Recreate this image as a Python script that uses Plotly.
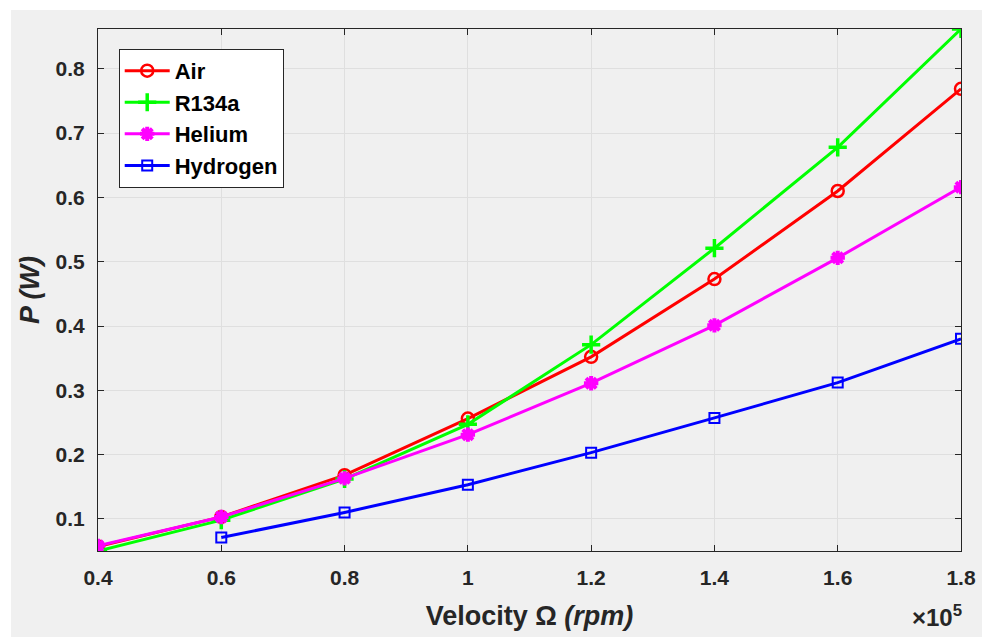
import plotly.graph_objects as go

velocity = [40000, 60000, 80000, 100000, 120000, 140000, 160000, 180000]
air = [0.057, 0.103, 0.168, 0.256, 0.352, 0.473, 0.610, 0.769]
r134a = [0.050, 0.098, 0.162, 0.247, 0.371, 0.521, 0.678, 0.862]
helium = [0.058, 0.103, 0.163, 0.231, 0.311, 0.401, 0.506, 0.616]
hydrogen_v = [60000, 80000, 100000, 120000, 140000, 160000, 180000]
hydrogen = [0.071, 0.110, 0.153, 0.203, 0.257, 0.312, 0.380]

x_ticks = [40000, 60000, 80000, 100000, 120000, 140000, 160000, 180000]
x_ticktext = ["0.4", "0.6", "0.8", "1", "1.2", "1.4", "1.6", "1.8"]
y_ticks = [0.1, 0.2, 0.3, 0.4, 0.5, 0.6, 0.7, 0.8]

FONT = "Liberation Sans, Arial, sans-serif"
AX = "#262626"

fig = go.Figure()
fig.add_trace(go.Scatter(x=velocity, y=air, name="<b>Air</b>", mode="lines+markers",
                         line=dict(color="#ff0000", width=3),
                         marker=dict(symbol="circle-open", size=12, color="#ff0000",
                                     line=dict(width=2.5, color="#ff0000"))))
fig.add_trace(go.Scatter(x=velocity, y=r134a, name="<b>R134a</b>", mode="lines+markers",
                         line=dict(color="#00ff00", width=3),
                         marker=dict(symbol="cross-thin-open", size=13, color="#00ff00",
                                     line=dict(width=3.5, color="#00ff00"))))
fig.add_trace(go.Scatter(x=velocity, y=helium, name="<b>Helium</b>", mode="lines+markers",
                         line=dict(color="#ff00ff", width=3),
                         marker=dict(symbol="asterisk-open", size=12, color="#ff00ff",
                                     line=dict(width=4, color="#ff00ff"))))
fig.add_trace(go.Scatter(x=hydrogen_v, y=hydrogen, name="<b>Hydrogen</b>", mode="lines+markers",
                         line=dict(color="#0000ff", width=3),
                         marker=dict(symbol="square-open", size=10, color="#0000ff",
                                     line=dict(width=2, color="#0000ff"))))

fig.update_layout(
    width=988, height=637,
    margin=dict(l=98, r=27, t=29, b=84),
    paper_bgcolor="white",
    plot_bgcolor="white",
    font=dict(family=FONT, color=AX, size=15),
    showlegend=True,
    legend=dict(x=0.024, y=0.962, xanchor="left", yanchor="top",
                bgcolor="white", bordercolor=AX, borderwidth=1,
                font=dict(family=FONT, size=22, color="black"),
                itemwidth=45, tracegroupgap=0),
    shapes=[dict(type="rect", xref="paper", yref="paper",
                 x0=(11 - 98) / 863, x1=(982 - 98) / 863,
                 y0=(553 - 640) / 524, y1=(553 - 10) / 524,
                 fillcolor="#f0f0f0", line=dict(width=0), layer="below")],
    annotations=[dict(text="<b>×10<sup>5</sup></b>", xref="paper", yref="paper",
                      x=(964 - 98) / 863, y=(553 - 618) / 524,
                      xanchor="right", yanchor="middle", showarrow=False,
                      font=dict(family=FONT, size=24, color=AX))],
)

fig.update_xaxes(range=[40000, 180000], tickvals=x_ticks, ticktext=x_ticktext,
                 ticks="inside", ticklen=6, tickcolor=AX, mirror="ticks",
                 showline=True, linecolor=AX, linewidth=1,
                 showgrid=True, gridcolor="#dfdfdf", gridwidth=1, zeroline=False,
                 ticklabelstandoff=8,
                 tickfont=dict(family=FONT, size=21, color=AX, weight="bold"),
                 title=dict(text="<b>Velocity Ω <i>(rpm)</i></b>",
                            font=dict(family=FONT, size=27, color=AX), standoff=17))
fig.update_yaxes(range=[0.05, 0.862], tickvals=y_ticks,
                 ticks="inside", ticklen=6, tickcolor=AX, mirror="ticks",
                 showline=True, linecolor=AX, linewidth=1,
                 showgrid=True, gridcolor="#dfdfdf", gridwidth=1, zeroline=False,
                 ticklabelstandoff=8,
                 tickfont=dict(family=FONT, size=21, color=AX, weight="bold"),
                 title=dict(text="<b><i>P (W)</i></b>",
                            font=dict(family=FONT, size=27, color=AX), standoff=8))

fig.write_html("out.html")
